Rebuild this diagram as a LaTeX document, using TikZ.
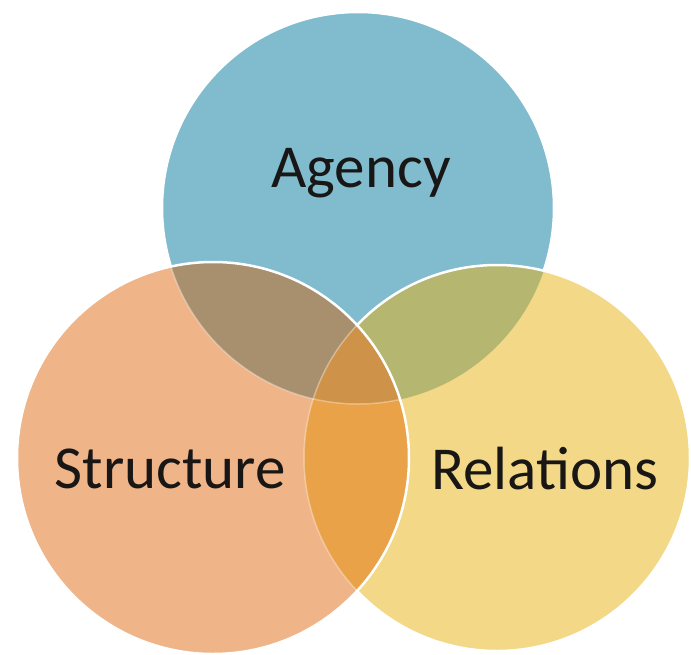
\documentclass[tikz,border=0pt]{standalone}
\usepackage{fontspec}
\setmainfont{Carlito}
\definecolor{Ablue}{RGB}{128,188,206}
\definecolor{Sorange}{RGB}{239,180,135}
\definecolor{Ryellow}{RGB}{242,216,135}
\definecolor{ASbrown}{RGB}{168,143,110}
\definecolor{ARgreen}{RGB}{181,183,112}
\definecolor{SRorange}{RGB}{234,162,72}
\definecolor{ASRcore}{RGB}{206,146,72}
\definecolor{txt}{RGB}{25,22,22}
\begin{document}
\begin{tikzpicture}[x=1pt,y=-1pt,
  outline/.style={draw=white,line width=2.5pt},
  faint/.style={draw=white,draw opacity=0.35,line width=1.5pt},
  label/.style={anchor=base,text=txt,font=\fontsize{61}{61}\selectfont,inner sep=0pt}]
\fill[white] (0,0) rectangle (691,654);
\useasboundingbox (0,0) rectangle (691,654);
\coordinate (A) at (358,208);
\coordinate (S) at (213,458);
\coordinate (R) at (497,458);
\def\ra{196}\def\rs{196}\def\rr{193}
% Agency
\fill[Ablue] (A) circle (\ra);
\draw[outline] (A) circle (\ra);
% Relations
\fill[Ryellow] (R) circle (\rr);
\begin{scope}
  \clip (R) circle (\rr);
  \fill[ARgreen] (A) circle (\ra);
\end{scope}
\draw[outline] (R) circle (\rr);
% Structure
\fill[Sorange] (S) circle (\rs);
\begin{scope}
  \clip (S) circle (\rs);
  \fill[ASbrown] (A) circle (\ra);
  \fill[SRorange] (R) circle (\rr);
  \begin{scope}
    \clip (A) circle (\ra);
    \fill[ASRcore] (R) circle (\rr);
  \end{scope}
  \draw[faint] (A) circle (\ra);
  \draw[faint] (R) circle (\rr);
\end{scope}
\draw[outline] (S) circle (\rs);
% labels
\node[label] (agency) at (361,187) {Agency};
\node[label] (structure) at (170,488) {Structure};
\node[label] (relations) at (545,489) {Relations};
\end{tikzpicture}
\end{document}
